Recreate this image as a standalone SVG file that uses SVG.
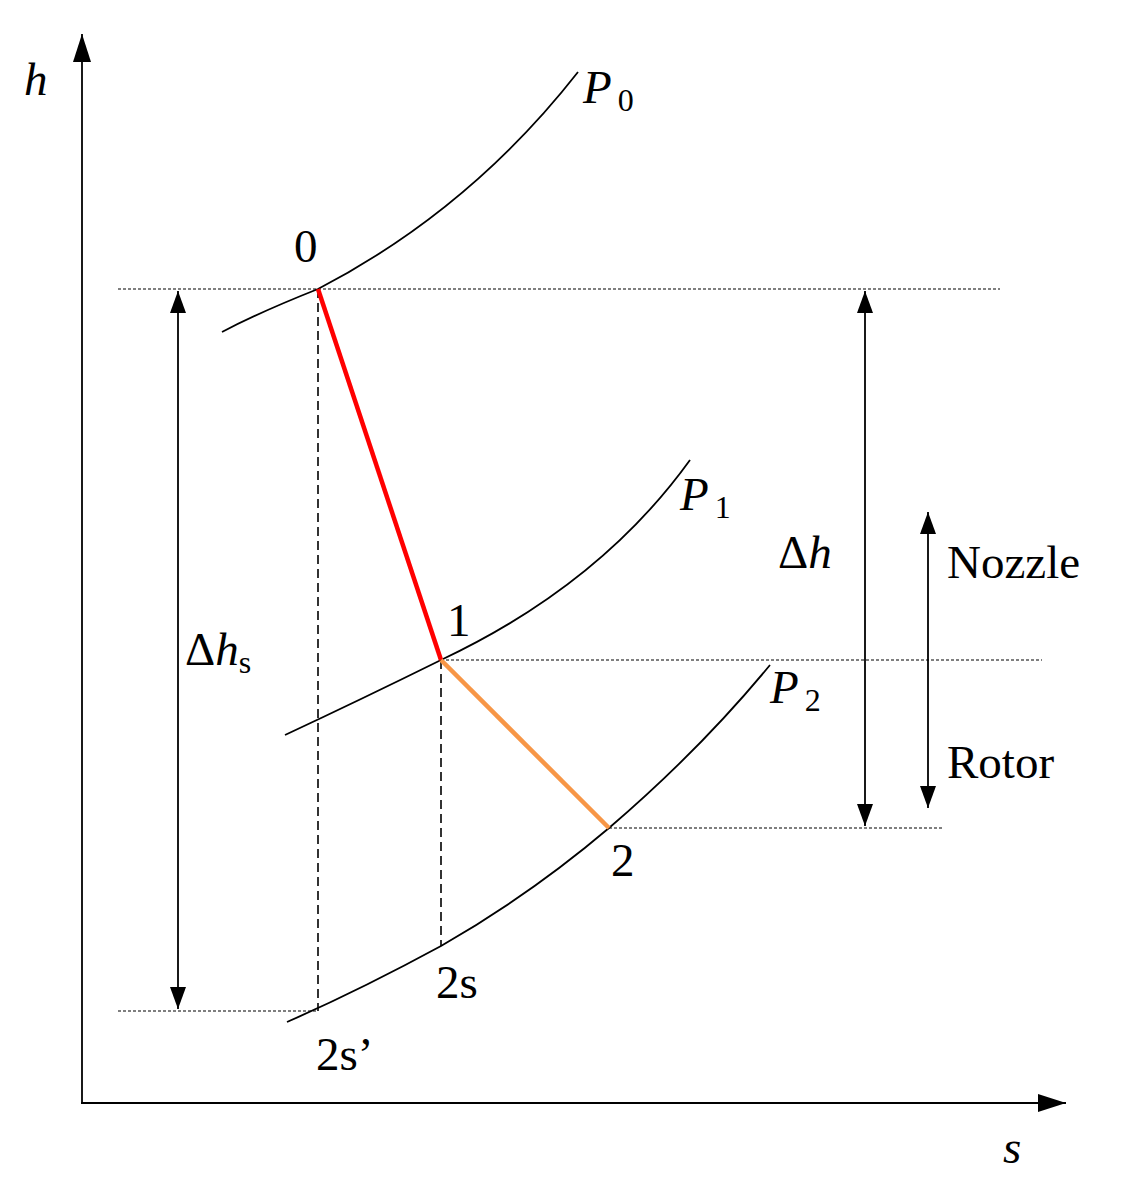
<svg xmlns="http://www.w3.org/2000/svg" width="1128" height="1187" viewBox="0 0 1128 1187">
<defs>
<marker id="big" viewBox="0 0 10 10" refX="10" refY="5" markerWidth="28" markerHeight="18" markerUnits="userSpaceOnUse" orient="auto" preserveAspectRatio="none"><path d="M0,0 L10,5 L0,10 z" fill="#000"/></marker>
<marker id="m" viewBox="0 0 10 10" refX="10" refY="5" markerWidth="22" markerHeight="16" markerUnits="userSpaceOnUse" orient="auto-start-reverse" preserveAspectRatio="none"><path d="M0,0 L10,5 L0,10 z" fill="#000"/></marker>
</defs>
<style>
.t{font-family:"Liberation Serif",serif;font-size:47px;fill:#000}
.i{font-style:italic}
.c{fill:none;stroke:#000;stroke-width:1.8}
.d{fill:none;stroke:#000;stroke-width:1.2;stroke-dasharray:3,2}
.dl{fill:none;stroke:#000;stroke-width:1.6;stroke-dasharray:9,5}
</style>
<rect width="1128" height="1187" fill="#fff"/>
<g id="axes">
<line x1="82" y1="1104" x2="82" y2="34" class="c" stroke-width="2.5" marker-end="url(#big)"/>
<line x1="81" y1="1103" x2="1066" y2="1103" class="c" stroke-width="2.5" marker-end="url(#big)"/>
</g>
<g id="curves">
<path class="c" d="M222,332 Q260,312 318,289 Q470,210 578,72"/>
<path class="c" d="M285,735 Q360,700 441,660 Q600,585 690,460"/>
<path class="c" d="M287,1022 Q360,990 441,946 Q530,895 609,828 Q700,750 770,665"/>
</g>
<g id="connectors">
<line x1="118" y1="289" x2="1000" y2="289" class="d"/>
<line x1="441" y1="660" x2="1042" y2="660" class="d"/>
<line x1="609" y1="828" x2="942" y2="828" class="d"/>
<line x1="118" y1="1011" x2="318" y2="1011" class="d"/>
<line x1="318" y1="289" x2="318" y2="1011" class="dl"/>
<line x1="441" y1="660" x2="441" y2="946" class="dl"/>
<line x1="318" y1="289" x2="441" y2="660" stroke="#f00" stroke-width="4.5"/>
<line x1="441" y1="660" x2="609" y2="828" stroke="#f79646" stroke-width="4.5"/>
<line x1="178" y1="291" x2="178" y2="1009" class="c" marker-start="url(#m)" marker-end="url(#m)"/>
<line x1="865" y1="291" x2="865" y2="826" class="c" marker-start="url(#m)" marker-end="url(#m)"/>
<line x1="928" y1="512" x2="928" y2="808" class="c" stroke-width="2.5" marker-start="url(#m)" marker-end="url(#m)"/>
</g>
<g id="labels">
<text class="t i" x="24" y="95">h</text>
<text class="t i" x="1003" y="1163">s</text>
<text class="t" x="583" y="103"><tspan class="i">P</tspan><tspan font-size="32" dx="6" dy="8">0</tspan></text>
<text class="t" x="680" y="510"><tspan class="i">P</tspan><tspan font-size="32" dx="6" dy="8">1</tspan></text>
<text class="t" x="770" y="703"><tspan class="i">P</tspan><tspan font-size="32" dx="6" dy="8">2</tspan></text>
<text class="t" x="294" y="262">0</text>
<text class="t" x="447" y="636">1</text>
<text class="t" x="611" y="876">2</text>
<text class="t" x="436" y="998">2s</text>
<text class="t" x="316" y="1070">2s’</text>
<text class="t" x="185" y="665">Δ<tspan class="i">h</tspan><tspan font-size="32" dy="8">s</tspan></text>
<text class="t" x="778" y="568">Δ<tspan class="i">h</tspan></text>
<text class="t" x="947" y="578">Nozzle</text>
<text class="t" x="947" y="778">Rotor</text>
</g>
</svg>
